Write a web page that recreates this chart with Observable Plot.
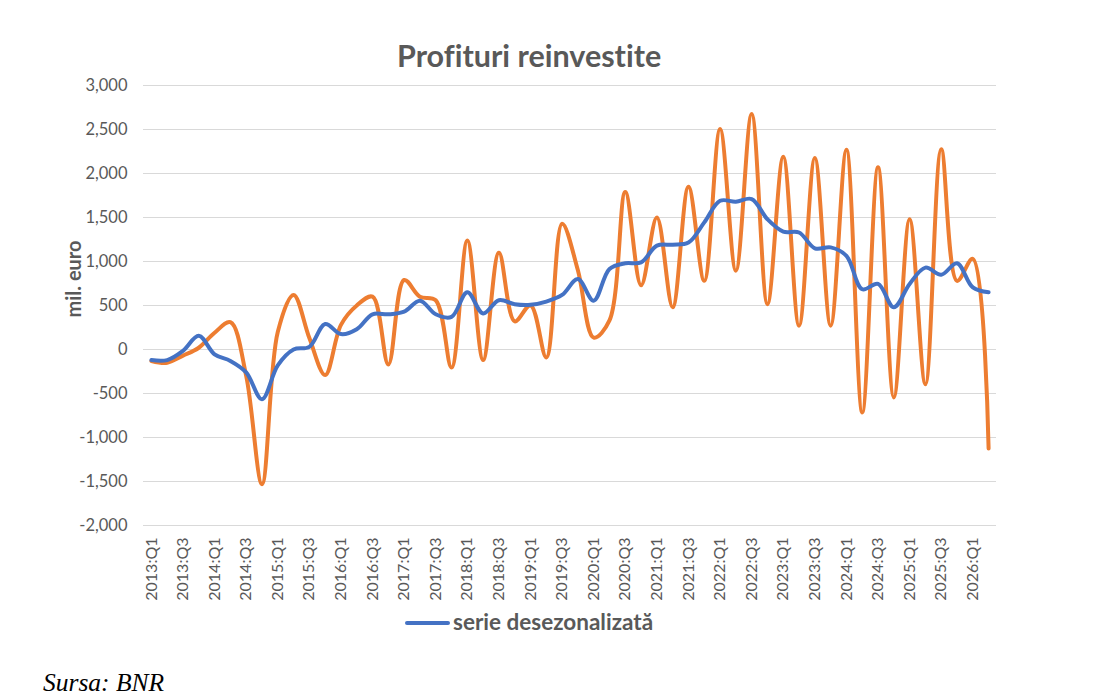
<!DOCTYPE html>
<html>
<head>
<meta charset="utf-8">
<script src="https://cdn.jsdelivr.net/npm/d3@7"></script>
<script src="https://cdn.jsdelivr.net/npm/@observablehq/plot@0.6"></script>
<style>
  body { margin: 0; background: #fff; }
  #wrap { position: relative; width: 1101px; height: 700px; font-family: Lato, "Open Sans", sans-serif; font-variant-ligatures: none; }
  #title { position: absolute; top: 37px; left: 397px; font-size: 30.5px; font-weight: bold; color: #595959; white-space: nowrap; line-height: 1.2; }
  #chart { position: absolute; top: 70px; left: 0; }
  #chart svg { font-variant-ligatures: none; }
  #legend { position: absolute; top: 608px; left: 405px; display: flex; align-items: center; font-size: 22.5px; font-weight: bold; color: #595959; line-height: 1.2; }
  #legend .sw { width: 45px; height: 4px; background: #4472C4; border-radius: 2px; margin-right: 3px; margin-top: 2px; }
  #caption { position: absolute; top: 668px; left: 43px; font-family: "Liberation Serif", "DejaVu Serif", serif; font-style: italic; font-size: 25.5px; color: #000; white-space: nowrap; }
</style>
</head>
<body>
<div id="wrap">
  <div id="title">Profituri reinvestite</div>
  <div id="chart"></div>
  <div id="legend"><span class="sw"></span><span>serie desezonalizată</span></div>
  <div id="caption">Sursa: BNR</div>
</div>
<script>
const years = [2013, 2014, 2015, 2016, 2017, 2018, 2019, 2020, 2021, 2022, 2023, 2024, 2025, 2026];
const quarterNames = ["Q1", "Q2", "Q3", "Q4"];
const quarters = years.flatMap(y => quarterNames.map(q => `${y}:${q}`)).slice(0, 54);
const tickLabels = quarters.filter(q => q.endsWith("Q1") || q.endsWith("Q3"));
const yTicks = [-2000, -1500, -1000, -500, 0, 500, 1000, 1500, 2000, 2500, 3000];

// serie brută (portocaliu)
const serieBruta = [
  -130, -150, -70, 20, 190, 310, -300, -1530,
  200, 620, 130, -290, 280, 500, 600, -170,
  790, 600, 560, -205, 1240, -120, 1100, 320,
  500, -90, 1430, 900, 135, 330, 1790, 730,
  1500, 480, 1850, 780, 2505, 895, 2675, 515,
  2190, 270, 2175, 270, 2270, -715, 2070, -545,
  1480, -395, 2275, 780, 1030, -1125
];
// serie desezonalizată (albastru)
const serieDesez = [
  -120, -120, -15, 155, -55, -130, -260, -565,
  -180, 0, 30, 290, 175, 230, 400, 400,
  430, 555, 400, 370, 650, 410, 560, 515,
  508, 545, 620, 800, 555, 915, 980, 990,
  1180, 1190, 1215, 1445, 1690, 1680, 1710, 1480,
  1340, 1330, 1150, 1160, 1065, 685, 745, 480,
  745, 930, 850, 980, 705, 650
];

const bruta = quarters.map((q, i) => ({q, v: serieBruta[i]}));
const desez = quarters.map((q, i) => ({q, v: serieDesez[i]}));

const fmt = d => d.toLocaleString("en-US");

const chart = Plot.plot({
  width: 1101,
  height: 540,
  marginLeft: 143,
  marginRight: 105,
  marginTop: 15,
  marginBottom: 85,
  style: {fontFamily: "Lato, 'Open Sans', sans-serif", color: "#595959", background: "transparent"},
  x: {type: "point", domain: quarters, padding: 0.5},
  y: {domain: [-2000, 3000]},
  marks: [
    Plot.ruleY(yTicks, {stroke: "#d9d9d9", strokeWidth: 1.2}),
    Plot.axisY({ticks: yTicks, tickFormat: fmt, tickSize: 0, tickPadding: 16, fontSize: 16.5, label: null}),
    Plot.axisX({ticks: tickLabels, tickSize: 0, tickPadding: 12, tickRotate: -90, fontSize: 16, label: null}),
    Plot.text(["mil. euro"], {frameAnchor: "left", dx: -69, dy: 12, rotate: -90, fontWeight: "bold", fontSize: 20, fill: "#595959"}),
    Plot.line(bruta, {x: "q", y: "v", stroke: "#ED7D31", strokeWidth: 4, curve: "catmull-rom"}),
    Plot.line(desez, {x: "q", y: "v", stroke: "#4472C4", strokeWidth: 4, curve: "catmull-rom"})
  ]
});
document.getElementById("chart").appendChild(chart);
</script>
</body>
</html>
